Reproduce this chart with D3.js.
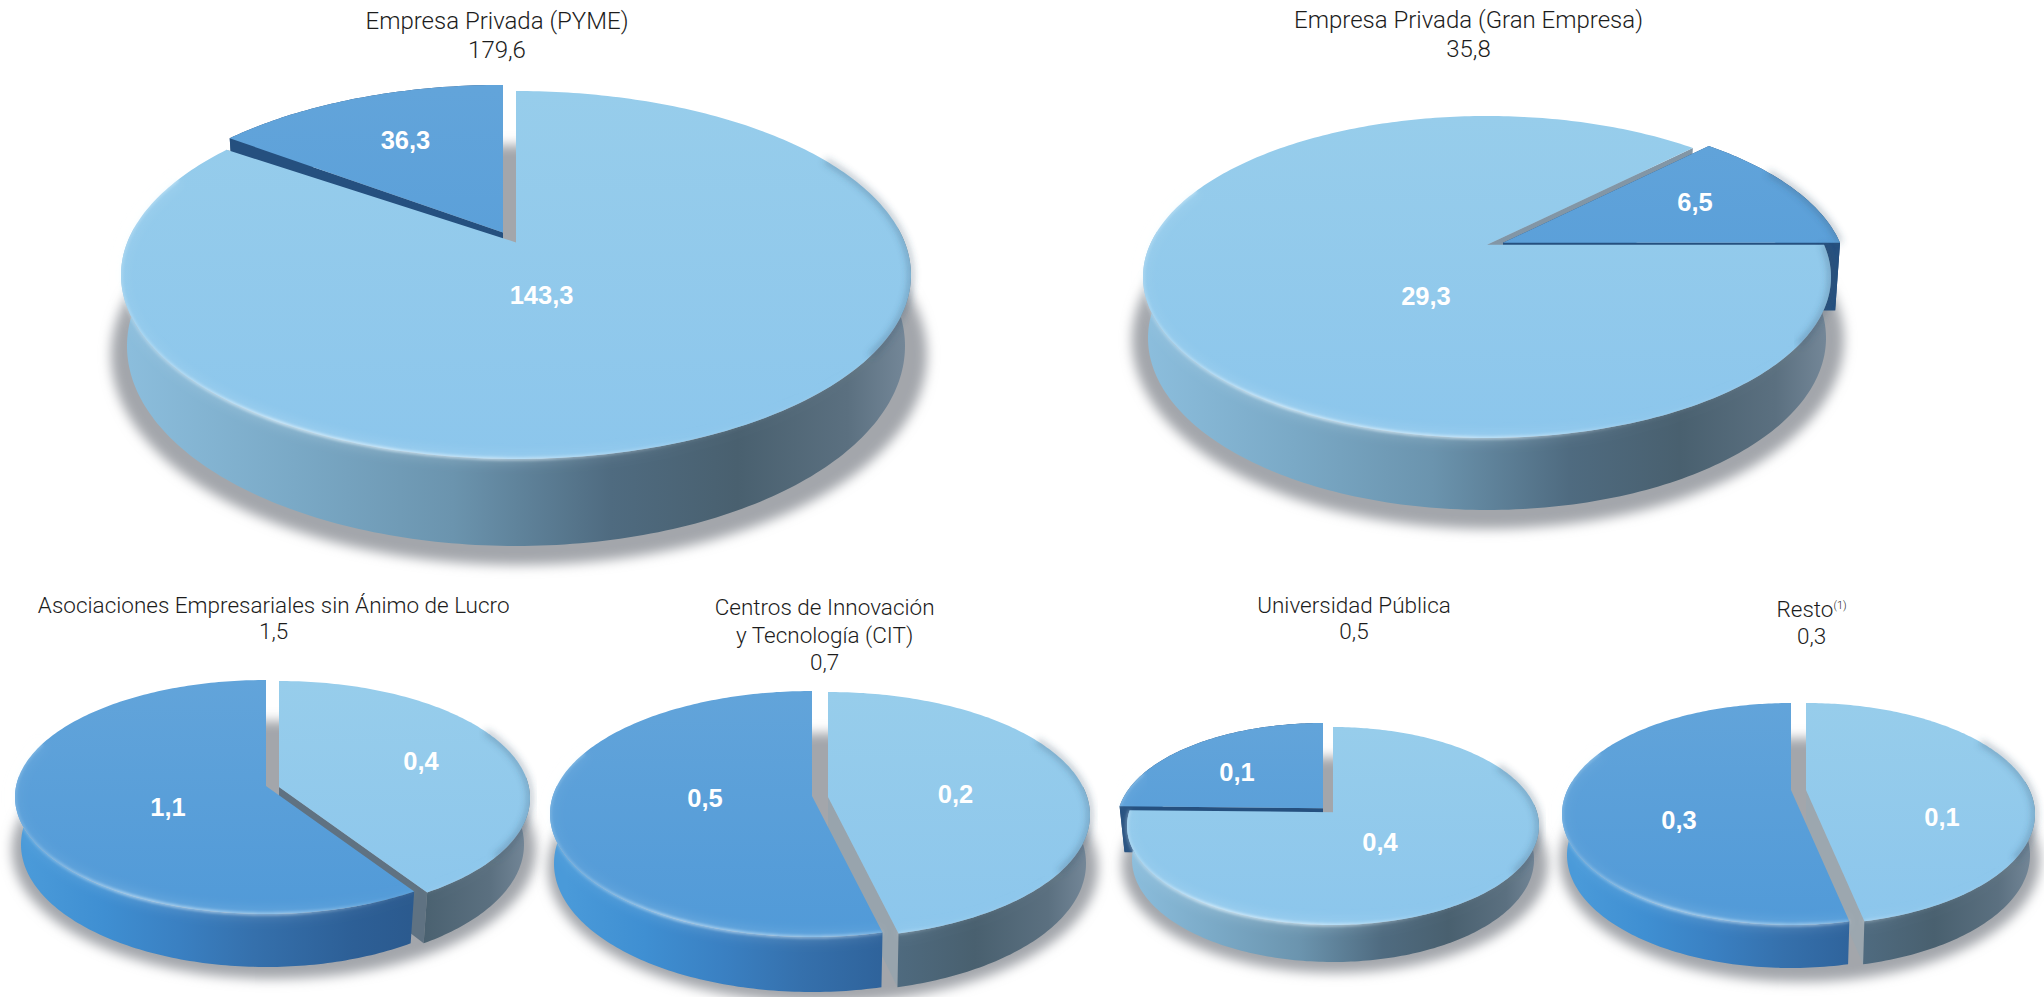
<!DOCTYPE html>
<html lang="es">
<head>
<meta charset="utf-8">
<script src="https://cdnjs.cloudflare.com/ajax/libs/d3/7.8.5/d3.min.js"></script>
<style>
html,body{margin:0;padding:0;background:#fff;overflow:hidden}
svg{display:block}
.title{font-family:Roboto,"Liberation Sans",sans-serif;font-weight:300;fill:#1c1c1c;text-anchor:middle}
.value{font-family:"Liberation Sans",Arial,sans-serif;font-weight:700;font-size:25.5px;fill:#fff;text-anchor:middle}
</style>
</head>
<body>
<svg id="chart" width="2044" height="997"></svg>
<script>
// ---- chart values ----
const pieTitles = [
  ["Empresa Privada (PYME)"],
  ["Empresa Privada (Gran Empresa)"],
  ["Asociaciones Empresariales sin Ánimo de Lucro"],
  ["Centros de Innovación", "y Tecnología (CIT)"],
  ["Universidad Pública"],
  ["Resto"]
];
const titleNotes = ["", "", "", "", "", "(1)"];
const pieTotals = [179.6, 35.8, 1.5, 0.7, 0.5, 0.3];
const lightValues = [143.3, 29.3, 0.4, 0.2, 0.4, 0.1];
const darkValues = [36.3, 6.5, 1.1, 0.5, 0.1, 0.3];
// The slices are not proportional to their printed labels in the source
// illustration, so the sweep of each slice is read from the picture (% of circle).
const lightDrawnShare = [84.7, 87.3, 40.8, 46.25, 75.3, 46.7];
const darkDrawnShare = [15.3, 12.7, 59.2, 53.75, 24.7, 53.3];

// ---- layout (full-size pixels) ----
const layouts = [
  {cx:516,rx:395,cy:275,ry:184,e:.177, bcx:516,brx:389,bcy:346,bry:200, off:[-13,-10], dr:.97, dt:2.0, dbo:0, navy:true, start:0,
   sh:[519,408,355,210], cut:"#a4a9ae", fs:24, title:[497,28.5,29], light:[541.6,295], dark:[405.5,140]},
  {cx:1487,rx:344,cy:277,ry:161,e:.2, bcx:1487,brx:339,bcy:338,bry:172, off:[16,-2], dr:1, dt:0, dbo:9, navy:true, start:90,
   sh:[1488,356,340,189], cut:"#8296a6", fs:24, title:[1468.5,28,29], light:[1426,296], dark:[1695,202]},
  {cx:279,rx:251,cy:798,ry:117,e:.094, bcx:279,brx:245,bcy:844.5,bry:122.5, off:[-13,-1], dr:1, dt:0, dbo:1, navy:false, start:0,
   sh:[274,262,850,129], cut:"#5f7282", fs:22.5, title:[273.7,612.7,26.5], light:[421,761], dark:[168,807]},
  {cx:828,rx:262,cy:815,ry:123,e:.146, bcx:828,brx:258,bcy:863.5,bry:128.5, off:[-16,-1], dr:1, dt:0, dbo:1, navy:false, start:0,
   sh:[823,275,868,135], cut:"#98a4ad", fs:22.5, title:[824.6,615,27.5], light:[955.5,794], dark:[705,798]},
  {cx:1333,rx:206,cy:826,ry:99,e:.14, bcx:1333,brx:201,bcy:859.5,bry:102.5, off:[-10,-4], dr:1, dt:0, dbo:13, navy:true, start:0,
   sh:[1335,213,865,108], cut:"#a4a9ae", fs:22.5, title:[1354,612.7,26.5], light:[1380,842], dark:[1237,772]},
  {cx:1806,rx:229,cy:814,ry:111,e:.216, bcx:1806,brx:224,bcy:855,bry:113, off:[-15,0], dr:1, dt:0, dbo:0, navy:false, start:0,
   sh:[1800,240,860,122], cut:"#9ca7af", fs:22.5, title:[1811.6,617,27], light:[1942,817], dark:[1679,820]}
];
const lightWall = [[0,"#8cbedd"],[.22,"#7aa9c6"],[.42,"#6b94ae"],[.62,"#4f6b80"],[.78,"#49606f"],[.92,"#5b7080"],[1,"#76899a"]];
const darkWall  = [[0,"#4a9ad9"],[.15,"#3f8fd2"],[.3,"#3a80c2"],[.45,"#3570ac"],[.65,"#2d5f96"],[1,"#27507f"]];
const lightFace = ["#97cdeb","#8cc6ec"];
const darkFace  = ["#62a4da","#519ad8"];
const darkCut = "#25507f";

const fmt = d3.formatLocale({decimal:",",thousands:".",grouping:[3],currency:["","€"]}).format(".1f");
const svg = d3.select("#chart");
const defs = svg.append("defs");
const blur = (id,s)=>defs.append("filter").attr("id",id)
  .attr("x","-15%").attr("y","-15%").attr("width","130%").attr("height","130%")
  .append("feGaussianBlur").attr("stdDeviation",s);
blur("soft",6); blur("glow",1.6); blur("wide",5); blur("bevel",3.5);

function gradient(id,stops,x1,x2,y1,y2){
  const g=defs.append("linearGradient").attr("id",id).attr("gradientUnits","userSpaceOnUse")
    .attr("x1",x1).attr("x2",x2).attr("y1",y1).attr("y2",y2);
  stops.forEach(s=>g.append("stop").attr("offset",s[0]).attr("stop-color",s[1]).attr("stop-opacity",s[2]===undefined?1:s[2]));
}
const line = d3.line();
const rad = d3.scaleLinear().domain([0,360]).range([0,2*Math.PI]);

layouts.forEach((g,i)=>{
  const G = svg.append("g").attr("class","pie");
  const topR = {x:d3.scaleLinear([-1,1],[g.cx-g.rx,g.cx+g.rx]), y:d3.scaleLinear([-1,1],[g.cy-g.ry,g.cy+g.ry])};
  const baseR = {x:d3.scaleLinear([-1,1],[g.bcx-g.brx,g.bcx+g.brx]), y:d3.scaleLinear([-1,1],[g.bcy-g.bry,g.bcy+g.bry])};
  // perspective map of the unit circle: the pie's centre sits above the ellipse's centre
  const norm = (a,r)=>{
    const u=r*Math.sin(a), v=-r*Math.cos(a), e=g.e, d=1-e*v;
    return [u*Math.sqrt(1-e*e)/d,(v-e)/d];
  };
  const pt = (R,a,off,r)=>{const n=norm(a,r);return [R.x(n[0])+off[0],R.y(n[1])+off[1]];};
  const sweep = (a0,a1)=>{const n=Math.max(2,Math.ceil((a1-a0)/rad(1)));return d3.range(n+1).map(k=>a0+(a1-a0)*k/n);};

  const pie = d3.pie().sort(null).value(d=>d.share)
    .startAngle(rad(g.start)).endAngle(rad(g.start)+2*Math.PI);
  const arcs = pie([
    {kind:"light",share:lightDrawnShare[i],value:lightValues[i],at:g.light,top:[0,0],base:[0,0],r:1,trim:0},
    {kind:"dark",share:darkDrawnShare[i],value:darkValues[i],at:g.dark,top:g.off,base:[g.off[0],g.off[1]+g.dbo],r:g.dr,trim:g.dt}
  ]);
  arcs.forEach(d=>{d.a0=d.startAngle+rad(d.data.trim); d.a1=d.endAngle;});
  const clipA=(d,lo,hi)=>{
    for(const w of [0,2*Math.PI]){
      const a=Math.max(d.a0,rad(lo)+w), b=Math.min(d.a1,rad(hi)+w);
      if(b>a) return [a,b];
    }
    return null;
  };

  const left=g.cx-g.rx, right=g.cx+g.rx;
  gradient(`wl${i}`,lightWall,left,right,0,0);
  gradient(`wd${i}`,darkWall,left,right,0,0);
  gradient(`fl${i}`,lightFace.map((c,k)=>[k,c]),0,0,g.cy-g.ry,g.cy+g.ry);
  gradient(`fd${i}`,darkFace.map((c,k)=>[k,c]),0,0,g.cy-g.ry,g.cy+g.ry);
  gradient(`hl${i}`,[[0,"#e8f7ff",.35],[.2,"#e8f7ff",.95],[.5,"#e8f7ff",.8],[.72,"#e8f7ff",.12],[1,"#e8f7ff",0]],left,right,0,0);

  // ground shadow (also shows through the gap between the slices)
  G.append("ellipse").attr("cx",g.sh[0]).attr("rx",g.sh[1]).attr("cy",g.sh[2]).attr("ry",g.sh[3])
    .attr("fill","#a3a6ab").attr("filter","url(#soft)");

  // cut walls between the slices
  arcs.forEach(d=>{
    [d.a0,d.a1].forEach(a=>{
      const isDark=d.data.kind==="dark";
      if(isDark&&!g.navy) return;
      const poly=[pt(topR,a,d.data.top,0),pt(topR,a,d.data.top,d.data.r),pt(baseR,a,d.data.base,d.data.r),pt(baseR,a,d.data.base,0)];
      G.append("path").attr("d",line(poly)+"Z").attr("fill",isDark?darkCut:g.cut);
    });
  });
  // outer walls (front part only, except the navy slices that stick out at the back)
  arcs.slice().reverse().forEach(d=>{
    const dark=d.data.kind==="dark", navy=dark&&g.navy;
    const range=navy?[d.a0,d.a1]:clipA(d,85,275);
    if(!range) return;
    const s=sweep(range[0],range[1]);
    const poly=s.map(a=>pt(topR,a,d.data.top,d.data.r)).concat(s.slice().reverse().map(a=>pt(baseR,a,d.data.base,d.data.r)));
    G.append("path").attr("d",line(poly)+"Z")
      .attr("fill",navy?darkCut:`url(#${dark?"wd":"wl"}${i})`);
  });
  // top faces
  arcs.forEach(d=>{
    const s=sweep(d.a0,d.a1);
    const poly=[pt(topR,0,d.data.top,0)].concat(s.map(a=>pt(topR,a,d.data.top,d.data.r)));
    G.append("path").attr("d",line(poly)+"Z")
      .attr("fill",`url(#${d.data.kind==="dark"?"fd":"fl"}${i})`);
  });
  // rim light and bevel
  arcs.forEach(d=>{
    const rim=r=>line(sweep(r[0],r[1]).map(a=>pt(topR,a,d.data.top,d.data.r)));
    const k=d.data.kind==="dark"?.8:1;
    const hi=clipA(d,112,292);
    if(hi){
      G.append("path").attr("d",rim(hi)).attr("fill","none").attr("stroke",`url(#hl${i})`)
        .attr("stroke-width",12).attr("stroke-opacity",.16*k).attr("filter","url(#wide)");
      G.append("path").attr("d",rim(hi)).attr("fill","none").attr("stroke",`url(#hl${i})`)
        .attr("stroke-width",2.6).attr("stroke-opacity",.85*k).attr("filter","url(#glow)");
    }
    const lo=clipA(d,60,125);
    if(lo) G.append("path").attr("d",rim(lo)).attr("fill","none")
      .attr("stroke","#35566e").attr("stroke-opacity",.4).attr("stroke-width",5).attr("filter","url(#bevel)");
  });

  // value labels
  arcs.forEach(d=>{
    G.append("text").attr("class","value").attr("x",d.data.at[0]).attr("y",d.data.at[1]+9)
      .text(fmt(d.data.value));
  });

  // titles
  const [tx,ty,lead]=g.title;
  pieTitles[i].forEach((t,k)=>{
    const el=G.append("text").attr("class","title").attr("font-size",g.fs).attr("x",tx).attr("y",ty+k*lead).text(t);
    if(titleNotes[i]) el.append("tspan").attr("dy",-8).attr("font-size",11).text(titleNotes[i]);
  });
  G.append("text").attr("class","title").attr("font-size",g.fs).attr("x",tx).attr("y",ty+pieTitles[i].length*lead).text(fmt(pieTotals[i]));
});
</script>
</body>
</html>
